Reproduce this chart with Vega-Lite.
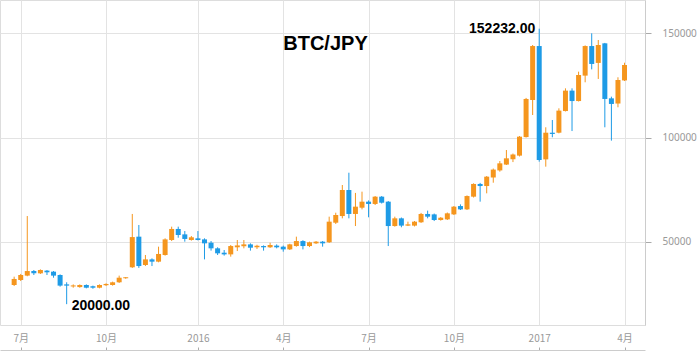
{
  "$schema": "https://vega.github.io/schema/vega-lite/v6.json",
  "width": 645,
  "height": 325,
  "padding": 0,
  "background": "white",
  "view": {"stroke": "#dddddd"},
  "title": {"text": "BTC/JPY", "anchor": "middle", "frame": "group", "offset": -70, "baseline": "alphabetic", "dx": 3, "font": "Liberation Sans", "fontSize": 20, "fontWeight": "bold", "color": "#000000"},
  "data": {"values": [
    {"date": "2015-06-22", "open": 29200, "high": 33200, "low": 28700, "close": 32100},
    {"date": "2015-06-29", "open": 31600, "high": 34500, "low": 31100, "close": 34000},
    {"date": "2015-07-06", "open": 33700, "high": 62300, "low": 33400, "close": 35900},
    {"date": "2015-07-13", "open": 35900, "high": 36400, "low": 34000, "close": 34800},
    {"date": "2015-07-20", "open": 34800, "high": 36700, "low": 34500, "close": 36400},
    {"date": "2015-07-27", "open": 36100, "high": 36400, "low": 34000, "close": 35300},
    {"date": "2015-08-03", "open": 35600, "high": 35900, "low": 32700, "close": 33700},
    {"date": "2015-08-10", "open": 34000, "high": 34300, "low": 28400, "close": 28900},
    {"date": "2015-08-17", "open": 29500, "high": 30500, "low": 20000, "close": 28900},
    {"date": "2015-08-24", "open": 28500, "high": 29500, "low": 27900, "close": 29000},
    {"date": "2015-08-31", "open": 28200, "high": 29500, "low": 27900, "close": 29200},
    {"date": "2015-09-07", "open": 29200, "high": 29500, "low": 27600, "close": 27900},
    {"date": "2015-09-14", "open": 28600, "high": 28900, "low": 27400, "close": 27900},
    {"date": "2015-09-21", "open": 27900, "high": 29500, "low": 27600, "close": 29200},
    {"date": "2015-09-28", "open": 29100, "high": 30000, "low": 28700, "close": 29700},
    {"date": "2015-10-05", "open": 29200, "high": 30800, "low": 28900, "close": 30500},
    {"date": "2015-10-12", "open": 30500, "high": 33700, "low": 30200, "close": 32700},
    {"date": "2015-10-19", "open": 32400, "high": 33000, "low": 32200, "close": 32900},
    {"date": "2015-10-26", "open": 37700, "high": 63300, "low": 37400, "close": 52200},
    {"date": "2015-11-02", "open": 52400, "high": 58000, "low": 37400, "close": 38300},
    {"date": "2015-11-09", "open": 38800, "high": 43600, "low": 38300, "close": 41500},
    {"date": "2015-11-16", "open": 41500, "high": 42000, "low": 38300, "close": 40400},
    {"date": "2015-11-23", "open": 40400, "high": 47600, "low": 40100, "close": 44100},
    {"date": "2015-11-30", "open": 43600, "high": 51600, "low": 43300, "close": 51100},
    {"date": "2015-12-07", "open": 50800, "high": 57200, "low": 50300, "close": 56100},
    {"date": "2015-12-14", "open": 56100, "high": 57200, "low": 51900, "close": 53200},
    {"date": "2015-12-21", "open": 53500, "high": 55100, "low": 50000, "close": 51300},
    {"date": "2015-12-28", "open": 50800, "high": 52700, "low": 50500, "close": 52100},
    {"date": "2016-01-04", "open": 51600, "high": 55100, "low": 50600, "close": 50800},
    {"date": "2016-01-11", "open": 51100, "high": 51600, "low": 41500, "close": 49200},
    {"date": "2016-01-18", "open": 49500, "high": 50300, "low": 45700, "close": 46800},
    {"date": "2016-01-25", "open": 46800, "high": 47300, "low": 43600, "close": 44400},
    {"date": "2016-02-01", "open": 44700, "high": 46000, "low": 43300, "close": 43900},
    {"date": "2016-02-08", "open": 43900, "high": 48400, "low": 42800, "close": 47900},
    {"date": "2016-02-15", "open": 47300, "high": 50800, "low": 45500, "close": 48200},
    {"date": "2016-02-22", "open": 47800, "high": 50800, "low": 46800, "close": 48700},
    {"date": "2016-02-29", "open": 48700, "high": 49200, "low": 45700, "close": 47100},
    {"date": "2016-03-07", "open": 47300, "high": 48500, "low": 46500, "close": 48100},
    {"date": "2016-03-14", "open": 47900, "high": 48200, "low": 45700, "close": 47300},
    {"date": "2016-03-21", "open": 47300, "high": 49500, "low": 47000, "close": 48400},
    {"date": "2016-03-28", "open": 48100, "high": 48700, "low": 46800, "close": 47300},
    {"date": "2016-04-04", "open": 47600, "high": 48100, "low": 45200, "close": 46300},
    {"date": "2016-04-11", "open": 46300, "high": 49000, "low": 46000, "close": 48700},
    {"date": "2016-04-18", "open": 47900, "high": 52400, "low": 47600, "close": 50300},
    {"date": "2016-04-25", "open": 50300, "high": 50700, "low": 46300, "close": 47900},
    {"date": "2016-05-02", "open": 47900, "high": 50000, "low": 47400, "close": 49700},
    {"date": "2016-05-09", "open": 49200, "high": 50300, "low": 48900, "close": 50000},
    {"date": "2016-05-16", "open": 50000, "high": 50300, "low": 47600, "close": 49200},
    {"date": "2016-05-23", "open": 49700, "high": 62000, "low": 49400, "close": 59600},
    {"date": "2016-05-30", "open": 59100, "high": 63900, "low": 58500, "close": 62800},
    {"date": "2016-06-06", "open": 62300, "high": 77200, "low": 61200, "close": 74800},
    {"date": "2016-06-13", "open": 74800, "high": 83100, "low": 61200, "close": 63300},
    {"date": "2016-06-20", "open": 63300, "high": 73400, "low": 57500, "close": 66800},
    {"date": "2016-06-27", "open": 66300, "high": 74000, "low": 65500, "close": 69200},
    {"date": "2016-07-04", "open": 69200, "high": 69800, "low": 61700, "close": 68100},
    {"date": "2016-07-11", "open": 68100, "high": 71900, "low": 67600, "close": 71600},
    {"date": "2016-07-18", "open": 71600, "high": 71900, "low": 68300, "close": 68700},
    {"date": "2016-07-25", "open": 69200, "high": 69500, "low": 47900, "close": 57500},
    {"date": "2016-08-01", "open": 57500, "high": 62000, "low": 57200, "close": 61200},
    {"date": "2016-08-08", "open": 61200, "high": 61600, "low": 56900, "close": 57700},
    {"date": "2016-08-15", "open": 57700, "high": 59600, "low": 57500, "close": 58300},
    {"date": "2016-08-22", "open": 57700, "high": 59900, "low": 57300, "close": 59600},
    {"date": "2016-08-29", "open": 59300, "high": 63800, "low": 59000, "close": 63300},
    {"date": "2016-09-05", "open": 63300, "high": 64900, "low": 61200, "close": 62000},
    {"date": "2016-09-12", "open": 63100, "high": 63500, "low": 59900, "close": 60400},
    {"date": "2016-09-19", "open": 60400, "high": 61800, "low": 60100, "close": 61500},
    {"date": "2016-09-26", "open": 60700, "high": 64000, "low": 60400, "close": 63600},
    {"date": "2016-10-03", "open": 63100, "high": 67100, "low": 62800, "close": 66800},
    {"date": "2016-10-10", "open": 67100, "high": 67900, "low": 65200, "close": 65500},
    {"date": "2016-10-17", "open": 65500, "high": 72200, "low": 65200, "close": 71900},
    {"date": "2016-10-24", "open": 71600, "high": 78000, "low": 71200, "close": 77700},
    {"date": "2016-10-31", "open": 77700, "high": 78200, "low": 69200, "close": 76700},
    {"date": "2016-11-07", "open": 76700, "high": 81500, "low": 73200, "close": 81200},
    {"date": "2016-11-14", "open": 80800, "high": 85100, "low": 78300, "close": 84600},
    {"date": "2016-11-21", "open": 84200, "high": 88700, "low": 83600, "close": 87600},
    {"date": "2016-11-28", "open": 87000, "high": 94000, "low": 86800, "close": 90000},
    {"date": "2016-12-05", "open": 89600, "high": 92300, "low": 88200, "close": 91900},
    {"date": "2016-12-12", "open": 91300, "high": 100700, "low": 90900, "close": 100400},
    {"date": "2016-12-19", "open": 100200, "high": 119000, "low": 100000, "close": 118500},
    {"date": "2016-12-26", "open": 118000, "high": 144400, "low": 110800, "close": 143900},
    {"date": "2017-01-02", "open": 143900, "high": 152232, "low": 88400, "close": 89200},
    {"date": "2017-01-09", "open": 89500, "high": 104900, "low": 86000, "close": 102300},
    {"date": "2017-01-16", "open": 102300, "high": 108400, "low": 100100, "close": 101700},
    {"date": "2017-01-23", "open": 102300, "high": 114000, "low": 102000, "close": 112900},
    {"date": "2017-01-30", "open": 112700, "high": 123600, "low": 112500, "close": 122500},
    {"date": "2017-02-06", "open": 122500, "high": 123600, "low": 103100, "close": 117500},
    {"date": "2017-02-13", "open": 117500, "high": 131600, "low": 117300, "close": 130000},
    {"date": "2017-02-20", "open": 129700, "high": 144200, "low": 126500, "close": 143900},
    {"date": "2017-02-27", "open": 143900, "high": 150000, "low": 132700, "close": 135300},
    {"date": "2017-03-06", "open": 135800, "high": 146800, "low": 128100, "close": 144400},
    {"date": "2017-03-13", "open": 145200, "high": 145400, "low": 104900, "close": 118500},
    {"date": "2017-03-20", "open": 118800, "high": 119600, "low": 98500, "close": 116100},
    {"date": "2017-03-27", "open": 116300, "high": 128900, "low": 114500, "close": 127600},
    {"date": "2017-04-03", "open": 127400, "high": 135900, "low": 127100, "close": 134800}
  ]},
  "encoding": {
    "x": {
      "field": "date",
      "type": "temporal",
      "title": null,
      "scale": {"domain": [{"year": 2015, "month": 6, "date": 12, "hours": 5, "minutes": 40, "utc": true}, {"year": 2017, "month": 4, "date": 19, "hours": 12, "utc": true}]},
      "axis": {
        "values": [
          {"year": 2015, "month": 6, "date": 29, "utc": true},
          {"year": 2015, "month": 9, "date": 28, "utc": true},
          {"year": 2016, "month": 1, "date": 4, "utc": true},
          {"year": 2016, "month": 4, "date": 4, "utc": true},
          {"year": 2016, "month": 7, "date": 4, "utc": true},
          {"year": 2016, "month": 10, "date": 3, "utc": true},
          {"year": 2017, "month": 1, "date": 2, "utc": true},
          {"year": 2017, "month": 4, "date": 3, "utc": true}
        ],
        "labelExpr": "utcmonth(datum.value + 345600000) == 0 ? utcFormat(datum.value + 345600000, '%Y') : (utcmonth(datum.value + 345600000) + 1) + '月'",
        "grid": true,
        "gridColor": "#e3e3e3",
        "offset": 25,
        "tickSize": -3,
        "tickColor": "#aaaaaa",
        "labelPadding": -9,
        "labelBaseline": "middle",
        "labelFlush": false,
        "labelFont": "Noto Sans CJK JP",
        "labelFontSize": 10,
        "labelColor": "#999999",
        "domainColor": "#cccccc"
      }
    }
  },
  "layer": [
    {
      "mark": {"type": "rule", "strokeWidth": 1},
      "encoding": {
        "y": {
          "field": "low",
          "type": "quantitative",
          "title": null,
          "scale": {"domain": [10000, 166000], "nice": false, "zero": false},
          "axis": {
            "orient": "right",
            "values": [50000, 100000, 150000],
            "format": "d",
            "grid": true,
            "gridColor": "#e3e3e3",
            "tickSize": 6,
            "tickColor": "#aaaaaa",
            "labelPadding": 11,
            "labelFont": "Noto Sans",
            "labelFontSize": 10,
            "labelColor": "#999999",
            "domainColor": "#cccccc"
          }
        },
        "y2": {"field": "high"},
        "color": {"condition": {"test": "datum.close > datum.open", "value": "#F5961E"}, "value": "#1E9BE6"}
      }
    },
    {
      "mark": {"type": "bar", "width": 5},
      "encoding": {
        "y": {"field": "open", "type": "quantitative", "title": null},
        "y2": {"field": "close"},
        "color": {"condition": {"test": "datum.close > datum.open", "value": "#F5961E"}, "value": "#1E9BE6"}
      }
    },
    {
      "transform": [{"filter": "datum.high == 152232"}],
      "mark": {"type": "text", "align": "right", "baseline": "middle", "dx": -4, "font": "Liberation Sans", "fontSize": 14, "fontWeight": "bold", "color": "#000000"},
      "encoding": {
        "y": {"field": "high", "type": "quantitative", "title": null},
        "text": {"field": "high", "type": "quantitative", "format": ".2f"}
      }
    },
    {
      "transform": [{"filter": "datum.low == 20000"}],
      "mark": {"type": "text", "align": "left", "baseline": "middle", "dx": 5, "dy": 2, "font": "Liberation Sans", "fontSize": 14, "fontWeight": "bold", "color": "#000000"},
      "encoding": {
        "y": {"field": "low", "type": "quantitative", "title": null},
        "text": {"field": "low", "type": "quantitative", "format": ".2f"}
      }
    }
  ]
}
